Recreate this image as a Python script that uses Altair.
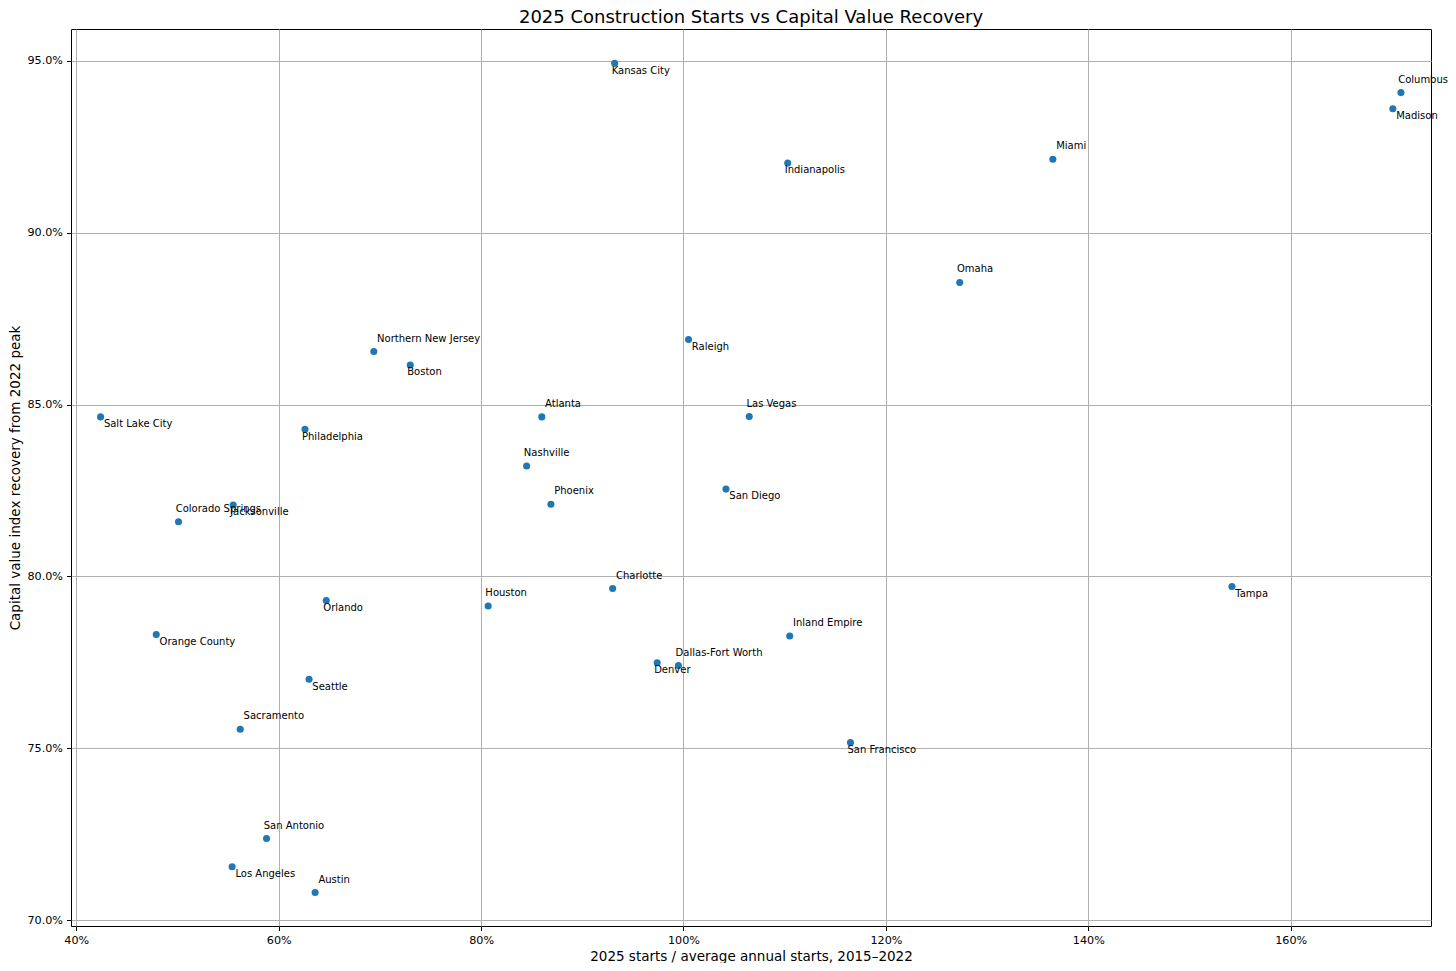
import altair as alt
import pandas as pd

cities = [
    "Salt Lake City", "Philadelphia", "Northern New Jersey", "Boston",
    "Colorado Springs", "Jacksonville", "Orlando", "Orange County",
    "Seattle", "Sacramento", "San Antonio", "Los Angeles", "Austin",
    "Houston", "Kansas City", "Indianapolis", "Raleigh", "Atlanta",
    "Las Vegas", "Nashville", "Phoenix", "San Diego", "Charlotte",
    "Inland Empire", "Denver", "Dallas-Fort Worth", "San Francisco",
    "Columbus", "Madison", "Miami", "Omaha", "Tampa",
]
starts_ratio = [
    0.424, 0.626, 0.694, 0.730,
    0.501, 0.555, 0.647, 0.479,
    0.630, 0.562, 0.588, 0.554, 0.636,
    0.807, 0.932, 1.103, 1.005, 0.860,
    1.065, 0.845, 0.869, 1.042, 0.930,
    1.105, 0.974, 0.995, 1.165,
    1.709, 1.701, 1.365, 1.273, 1.542,
]
value_recovery = [
    0.8464, 0.8428, 0.8654, 0.8615,
    0.8159, 0.8208, 0.7930, 0.7831,
    0.7701, 0.7556, 0.7238, 0.7156, 0.7081,
    0.7914, 0.9492, 0.9202, 0.8689, 0.8464,
    0.8465, 0.8321, 0.8210, 0.8254, 0.7965,
    0.7827, 0.7749, 0.7741, 0.7517,
    0.9407, 0.9360, 0.9213, 0.8855, 0.7971,
]
# label placement: ur = up-right, ul = up-left, dr = down-right, dl = down-left
label_side = [
    "dr", "dl", "ur", "dl",
    "ul", "dl", "dl", "dr",
    "dr", "ur", "ul", "dr", "ur",
    "ul", "dl", "dl", "dr", "ur",
    "ul", "ul", "ur", "dr", "ur",
    "ur", "dl", "ul", "dl",
    "ul", "dr", "ur", "ul", "dr",
]
x_ticks = [0.4, 0.6, 0.8, 1.0, 1.2, 1.4, 1.6]
y_ticks = [0.70, 0.75, 0.80, 0.85, 0.90, 0.95]

df = pd.DataFrame({
    "city": cities,
    "starts": starts_ratio,
    "recovery": value_recovery,
    "side": label_side,
})

FONT = "DejaVu Sans"

axis_style = dict(
    grid=True, gridColor="#b0b0b0", gridWidth=1,
    domain=False,
    ticks=True, tickColor="black", tickSize=4.5, tickWidth=1,
    labelFont=FONT, labelFontSize=11.2, labelColor="black", labelPadding=4,
    titleFont=FONT, titleFontSize=13.5, titleFontWeight="normal", titleColor="black",
)

x_enc = alt.X(
    "starts:Q",
    title="2025 starts / average annual starts, 2015\u20132022",
    scale=alt.Scale(domain=[0.39476, 1.73868], nice=False, zero=False),
    axis=alt.Axis(format=".0%", values=x_ticks, titlePadding=4, **axis_style),
)
y_enc = alt.Y(
    "recovery:Q",
    title="Capital value index recovery from 2022 peak",
    scale=alt.Scale(domain=[0.69837, 0.95919], nice=False, zero=False),
    axis=alt.Axis(format=".1%", values=y_ticks, titlePadding=4, **axis_style),
)

base = alt.Chart(df).encode(x=x_enc, y=y_enc)

points = base.mark_circle(size=50, color="#1f77b4", opacity=1)

offsets = {"ur": (3.3, -10), "ul": (-2.8, -10), "dr": (3.3, 10.3), "dl": (-3.0, 10.3)}
label_layers = []
for side, (ddx, ddy) in offsets.items():
    label_layers.append(
        base.transform_filter(alt.datum.side == side)
        .mark_text(align="left", baseline="alphabetic", dx=ddx, dy=ddy,
                   fontSize=10, font=FONT, color="black")
        .encode(text="city:N")
    )

chart = alt.layer(points, *label_layers).properties(
    width=1360,
    height=897,
    background="white",
    title=alt.TitleParams(
        "2025 Construction Starts vs Capital Value Recovery",
        fontSize=18, fontWeight="normal", font=FONT, color="black",
        anchor="middle", frame="group", baseline="bottom", offset=2, dy=17.5,
    ),
    autosize=alt.AutoSizeParams(type="none"),
    padding={"left": 63, "top": 21, "right": 17, "bottom": 37},
).configure_view(
    stroke="black", strokeWidth=1
)

chart.save("out.html", embed_options={"renderer": "svg", "actions": False})
